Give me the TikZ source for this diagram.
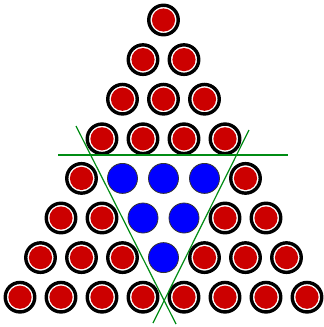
\documentclass[tikz,border=0pt]{standalone}
\usetikzlibrary{calc}
\definecolor{ballred}{RGB}{204,0,0}
\definecolor{ballblue}{RGB}{0,0,255}
\definecolor{cutgreen}{RGB}{0,140,20}

\begin{document}
\begin{tikzpicture}[
  x=1pt, y=-1pt,
  redball/.style={circle, draw=black, line width=3.4pt, fill=white,
                  minimum size=29.5pt, inner sep=0pt, outer sep=0pt,
                  path picture={\fill[ballred] (path picture bounding box.center) circle (11.6pt);}},
  blueball/.style={circle, draw=black!80, line width=0.8pt, fill=ballblue,
                   minimum size=30pt, inner sep=0pt, outer sep=0pt},
  cutline/.style={draw=cutgreen, line width=1.2pt},
]
\useasboundingbox (0,0) rectangle (324,327);

% ==================== triangle of balls ====================
\foreach \r in {1,...,8} {
  \foreach \c in {1,...,\r} {
    \pgfmathsetmacro\bx{163.5+(\c-(\r+1)/2)*41}
    \pgfmathsetmacro\by{20+(\r-1)*39.6}
    \pgfmathtruncatemacro\isblue{(\r>4)*(\r<8)*(\c>\r-4)*(\c<5)}
    \ifnum\isblue=1
      \node[blueball] (b-\r-\c) at (\bx,\by) {};
    \else
      \node[redball] (b-\r-\c) at (\bx,\by) {};
    \fi
  }
}

% ==================== cutting lines ====================
\coordinate (hl) at (58,155);
\coordinate (hr) at (288,155);
\coordinate (lt) at (76,126);
\coordinate (lb) at (176,324);
\coordinate (rt) at (249,130);
\coordinate (rb) at (153,323);
\draw[cutline] (hl) -- (hr);
\draw[cutline] (lt) -- (lb);
\draw[cutline] (rt) -- (rb);

\end{tikzpicture}
\end{document}
